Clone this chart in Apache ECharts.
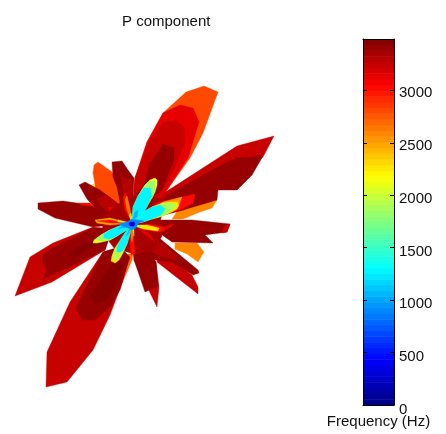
<!DOCTYPE html>
<html><head><meta charset="utf-8">
<style>html,body{margin:0;padding:0;background:#fff}#c{width:446px;height:434px}</style>
<script src="https://cdn.jsdelivr.net/npm/echarts@6/dist/echarts.min.js"></script>
</head><body><div id="c"></div>
<script>
const titleText='P component', cbarName='Frequency (Hz)', cbarMax=3490;
const cbarTicks=[0,500,1000,1500,2000,2500,3000];
const cbarBands=[...Array(64).keys()];

// Contour outlines: [x, y] in plot units around the polar origin; first value = contour level (Hz)
const fringeN=[2600,[[43,-19],[65,-19],[72,-28],[66,-38],[55,-30],[43,-25]]];
const fringeB=[2600,[[50,20],[85,24],[80,16],[68,12],[51,5],[40,5]]];
const fringeI=[2700,[[1,-30],[0,-36],[-5,-48],[-10,-59],[-6,-42],[-4,-30]]];
const fringeY1=[2200,[[-39,40],[-36,40],[-33,35],[-38,35]]];
const petalA=[
 [2800,[[3,46],[15,82],[31,111],[54,132],[72,138],[86,132],[71,91],[58,66],[33,31],[15,11],[0,0]]],
 [3120,[[3,46],[15,82],[31,111],[48,119],[61,116],[67,102],[63,89],[56,66],[33,31],[15,11],[0,0]]],
 [3230,[[3,46],[18,84],[31,101],[43,104],[52,97],[53,82],[43,57],[31,34],[15,11],[0,0]]],
 [3400,[[31,80],[42,76],[42,64],[30,34],[11,20],[5,30],[11,37],[18,61]]]];
const petalB=[
 [3230,[[32,31],[105,78],[142,88],[131,67],[51,14],[20,6],[10,10]]],
 [3400,[[35,29],[93,61],[105,66],[131,68],[120,49],[105,34],[86,34],[85,24],[51,14],[20,6],[15,12]]]];
const petalH=[
 [3230,[[-117,-72],[-102,-33],[-79,-19],[-39,-3],[-20,-5],[-27,-26],[-80,-58]]],
 [3400,[[-90,-38],[-89,-31],[-79,-24],[-39,-4],[-20,-5],[-27,-26],[-89,-55],[-85,-46]]],
 [3470,[[-62,-31],[-55,-23],[-30,-14],[-25,-15],[-59,-34]]]];
const petalI=[
 [3230,[[-86,-163],[-85,-128],[-62,-78],[-29,-28],[-12,-23],[-3,-33],[-10,-59],[-22,-91],[-39,-126],[-65,-158]]],
 [3400,[[-56,-84],[-50,-96],[-37,-96],[-22,-83],[-12,-66],[-7,-49],[-2,-33],[-12,-23],[-29,-28]]],
 [3470,[[-42,-73],[-37,-79],[-25,-76],[-15,-59],[-7,-39],[-17,-36],[-29,-53]]]];
const petalF=[2800,[[-38,59],[-34,62],[-20,52],[-10,30],[-4,6],[-30,20],[-36,34],[-39,51]]];
const petalG=[
 [3400,[[-20,62],[-10,63],[-4,54],[2,46],[1,21],[0,4],[-12,22],[-15,37],[-19,47]]],
 [3280,[[-11,47],[0,44],[1,34],[0,21],[-7,22]]]];
const petalE=[
 [3400,[[-53,39],[-47,42],[-32,34],[-15,21],[-2,4],[-20,6],[-35,14],[-45,25]]],
 [3280,[[-35,25],[-25,29],[-15,21],[-4,4],[-19,7],[-32,19]]],
 [3120,[[-24,17],[-17,17],[-4,4],[-15,7],[-22,12]]]];
const petalD=[
 [3400,[[-94,21],[-69,23],[-42,19],[-12,6],[-12,0],[-39,-3],[-77,6],[-94,15]]],
 [3050,[[-54,21],[-42,21],[-38,18],[-50,19]]]];
const petalJ=[
 [3230,[[2,-36],[25,-83],[27,-63],[24,-38],[11,-19],[0,-5]]],
 [3400,[[2,-36],[13,-68],[26,-62],[24,-38],[11,-19],[0,-5]]]];
const petalK=[3230,[[25,-38],[66,-70],[66,-63],[60,-51],[40,-36],[26,-29]]];
const petalL=[
 [3400,[[6,-13],[26,-13],[66,-46],[67,-49],[61,-51],[40,-38],[23,-36],[10,-23]]],
 [3280,[[13,-16],[23,-14],[46,-33],[43,-36],[26,-31],[13,-23]]]];
const petalM=[[3420,[[26,4],[60,4],[98,0],[95,-8],[73,-11],[81,-19],[40,-18],[23,-6]]],
 [3230,[[98,0],[95,-8],[90,-9],[92,-2]]]];
const coreBase=[3380,[[0,28],[18,28],[34,24],[28,2],[30,-12],[22,-26],[2,-30],[-18,-24],[-30,-8],[-28,8],[-14,20]]];
const innerRed=[
 [3120,[[11,-9],[23,-18],[17,-9],[5,-3]]],
 [3120,[[-37,4],[-22,6],[-2,1],[-22,-1],[-35,1]]],
 [3120,[[17,0],[31,-3],[42,0],[38,-4],[31,-6],[20,-5]]]];
const petal2=[
 [3050,[[1,2],[25,21],[50,27],[63,30],[61,21],[48,14],[18,6]]],
 [2550,[[8,6],[31,22],[50,27],[46,17],[25,9]]],
 [2250,[[0,0],[5,7],[11,12],[20,17],[31,21],[40,22],[45,22],[47,19],[45,15],[38,11],[31,8],[20,5],[11,2]]],
 [1900,[[20,17],[31,21],[40,21],[44,18],[38,12],[31,8],[20,5]]],
 [1300,[[0,0],[5,7],[11,12],[20,17],[28,19],[33,15],[29,9],[20,5],[11,2]]]];
const petal1=[
 [2150,[[0,0],[1,17],[6,28],[13,39],[18,44],[23,46],[25,44],[25,39],[23,32],[20,26],[14,16],[8,7]]],
 [1850,[[6,28],[13,39],[18,43],[23,43],[23,33],[20,26]]],
 [1300,[[0,0],[1,17],[6,28],[12,36],[18,36],[20,28],[15,17],[8,7]]],
 [1050,[[1,5],[3,12],[6,14],[5,7]]]];
const petal3=[
 [2150,[[0,0],[-7,0],[-15,-3],[-22,-6],[-31,-11],[-38,-16],[-39,-19],[-35,-19],[-30,-18],[-22,-16],[-15,-12],[-7,-7],[-3,-3]]],
 [1800,[[-22,-6],[-31,-11],[-37,-16],[-30,-17],[-22,-16],[-15,-12]]],
 [1300,[[0,0],[-7,0],[-15,-3],[-22,-6],[-28,-10],[-28,-14],[-22,-15],[-15,-12],[-7,-7],[-3,-3]]],
 [1050,[[0,0],[-10,-2],[-14,-5],[-5,-3]]]];
const petal4=[
 [2250,[[0,0],[-5,-6],[-11,-15],[-17,-24],[-20,-32],[-21,-37],[-17,-39],[-13,-36],[-9,-29],[-5,-20],[-2,-10]]],
 [1950,[[-13,-19],[-17,-25],[-20,-33],[-17,-37],[-12,-33],[-8,-26]]],
 [1300,[[0,0],[-5,-6],[-11,-15],[-15,-23],[-15,-28],[-11,-28],[-8,-25],[-5,-20],[-2,-10]]],
 [1050,[[0,0],[-3,-6],[-6,-12],[-3,-9]]]];
const petal5=[
 [3050,[[0,2],[-7,14],[-9,27],[-6,31],[-2,17]]],
 [2650,[[0,2],[-5,14],[-7,25],[-5,28],[-2,15]]],
 [2250,[[0,0],[-3,9],[-1,11],[0,6]]]];
const petal6=[
 [3050,[[0,-1],[2,-14],[3,-29],[-1,-31],[-2,-16]]],
 [2600,[[0,-1],[-1,-14],[0,-18],[1,-12]]],
 [2250,[[0,0],[1,-8],[2,-12],[2,-6]]]];
const petal7=[
 [2500,[[-37,4],[-22,6],[-2,1],[-22,-1],[-35,1]]],
 [3050,[[-35,3],[-22,4],[-8,1],[-22,1]]],
 [2250,[[-2,1],[-14,4],[-14,2]]]];
const petal8=[
 [3050,[[15,0],[31,-3],[33,-7],[26,-8],[11,-5]]],
 [2250,[[0,-1],[15,-1],[27,-4],[26,-7],[11,-5]]],
 [1700,[[0,-1],[10,-2],[8,-3]]]];
const coreBlue=[
 [900,[[0,5],[6,4],[12,3],[6,1],[4,-4],[0,-6],[-4,-4],[-14,0],[-5,2]]],
 [300,[[-2,2],[2,2],[3,0],[2,-2],[-2,-2],[-3,0]]]];

const layers=[fringeN,fringeB,fringeI,fringeY1,...petalA,...petalB,...petalH,...petalI,petalF,...petalG,...petalE,...petalD,
 petalK,...petalJ,...petalL,...petalM,coreBase,...innerRed,...petal5,...petal6,...petal7,...petal8,...petal2,...petal1,...petal3,...petal4,...coreBlue];

function jet(t){
 const f=p=>Math.round(255*Math.max(0,Math.min(1,1.5-Math.abs(4*t-p))));
 return 'rgb('+f(3)+','+f(2)+','+f(1)+')';
}
const quant=v=>jet((Math.min(63,Math.floor(v/cbarMax*64))+0.5)/64);
const font='"Liberation Sans", Arial, sans-serif';

const chart=echarts.init(document.getElementById('c'),null,{renderer:'canvas'});
chart.setOption({
 animation:false,
 title:{text:titleText,left:117,top:9,
  textStyle:{fontFamily:font,fontSize:15,fontWeight:'normal',color:'#111'}},
 grid:[{left:0,top:0,width:446,height:434,show:false},
       {left:363,top:39,width:31,height:369,show:false},
       {left:363,top:41,width:31,height:369,show:false}],
 xAxis:[{type:'value',gridIndex:0,min:-132,max:314,show:false},
        {type:'value',gridIndex:1,min:0,max:1,position:'bottom',name:cbarName,nameLocation:'middle',nameGap:9,z:5,
         nameTextStyle:{fontFamily:font,fontSize:15,color:'#111'},
         axisLine:{show:true,onZero:false,lineStyle:{color:'#000'}},axisTick:{show:false},axisLabel:{show:false},splitLine:{show:false}},
        {type:'value',gridIndex:1,min:0,max:1,position:'top',z:5,
         axisLine:{show:true,onZero:false,lineStyle:{color:'#000'}},axisTick:{show:false},axisLabel:{show:false},splitLine:{show:false}},
        {type:'value',gridIndex:2,min:0,max:1,show:false}],
 yAxis:[{type:'value',gridIndex:0,min:-210,max:224,show:false},
        {type:'value',gridIndex:1,min:0,max:cbarMax,interval:500,position:'right',z:5,
         axisLine:{show:true,onZero:false,lineStyle:{color:'#000'}},
         axisTick:{show:true,inside:true,length:4,lineStyle:{color:'#000'},customValues:cbarTicks},
         axisLabel:{show:false},
         splitLine:{show:false}},
        {type:'value',gridIndex:1,min:0,max:cbarMax,interval:500,position:'left',z:5,
         axisLine:{show:true,onZero:false,lineStyle:{color:'#000'}},
         axisTick:{show:true,inside:true,length:4,lineStyle:{color:'#000'},customValues:cbarTicks},
         axisLabel:{show:false},splitLine:{show:false}},
        {type:'value',gridIndex:2,min:0,max:cbarMax,interval:500,position:'right',z:5,
         axisLine:{show:false},axisTick:{show:false},splitLine:{show:false},
         axisLabel:{show:true,margin:5,fontFamily:font,fontSize:15,color:'#111',verticalAlignMinLabel:'middle',
          customValues:cbarTicks,formatter:v=>String(v)}}],
 series:[
  {type:'custom',xAxisIndex:0,yAxisIndex:0,clip:false,silent:true,
   data:layers.map((l,i)=>[i,l[0]]),
   encode:{x:-1,y:-1},
   renderItem:(p,api)=>{
     const l=layers[api.value(0)];
     const c=quant(l[0]);
     return {type:'polygon',shape:{points:l[1].map(q=>api.coord(q))},style:{fill:c,stroke:c,lineWidth:0.4}};
   }},
  {type:'custom',xAxisIndex:1,yAxisIndex:1,silent:true,z:1,
   data:cbarBands.map(b=>[b]),
   encode:{x:-1,y:-1},
   renderItem:(p,api)=>{
     const b=api.value(0);
     const a=api.coord([0,b/64*cbarMax]), d=api.coord([1,(b+1)/64*cbarMax]);
     return {type:'rect',shape:{x:a[0],y:d[1],width:d[0]-a[0],height:a[1]-d[1]+0.5},style:{fill:jet((b+0.5)/64)}};
   }}
 ]
});
</script></body></html>
